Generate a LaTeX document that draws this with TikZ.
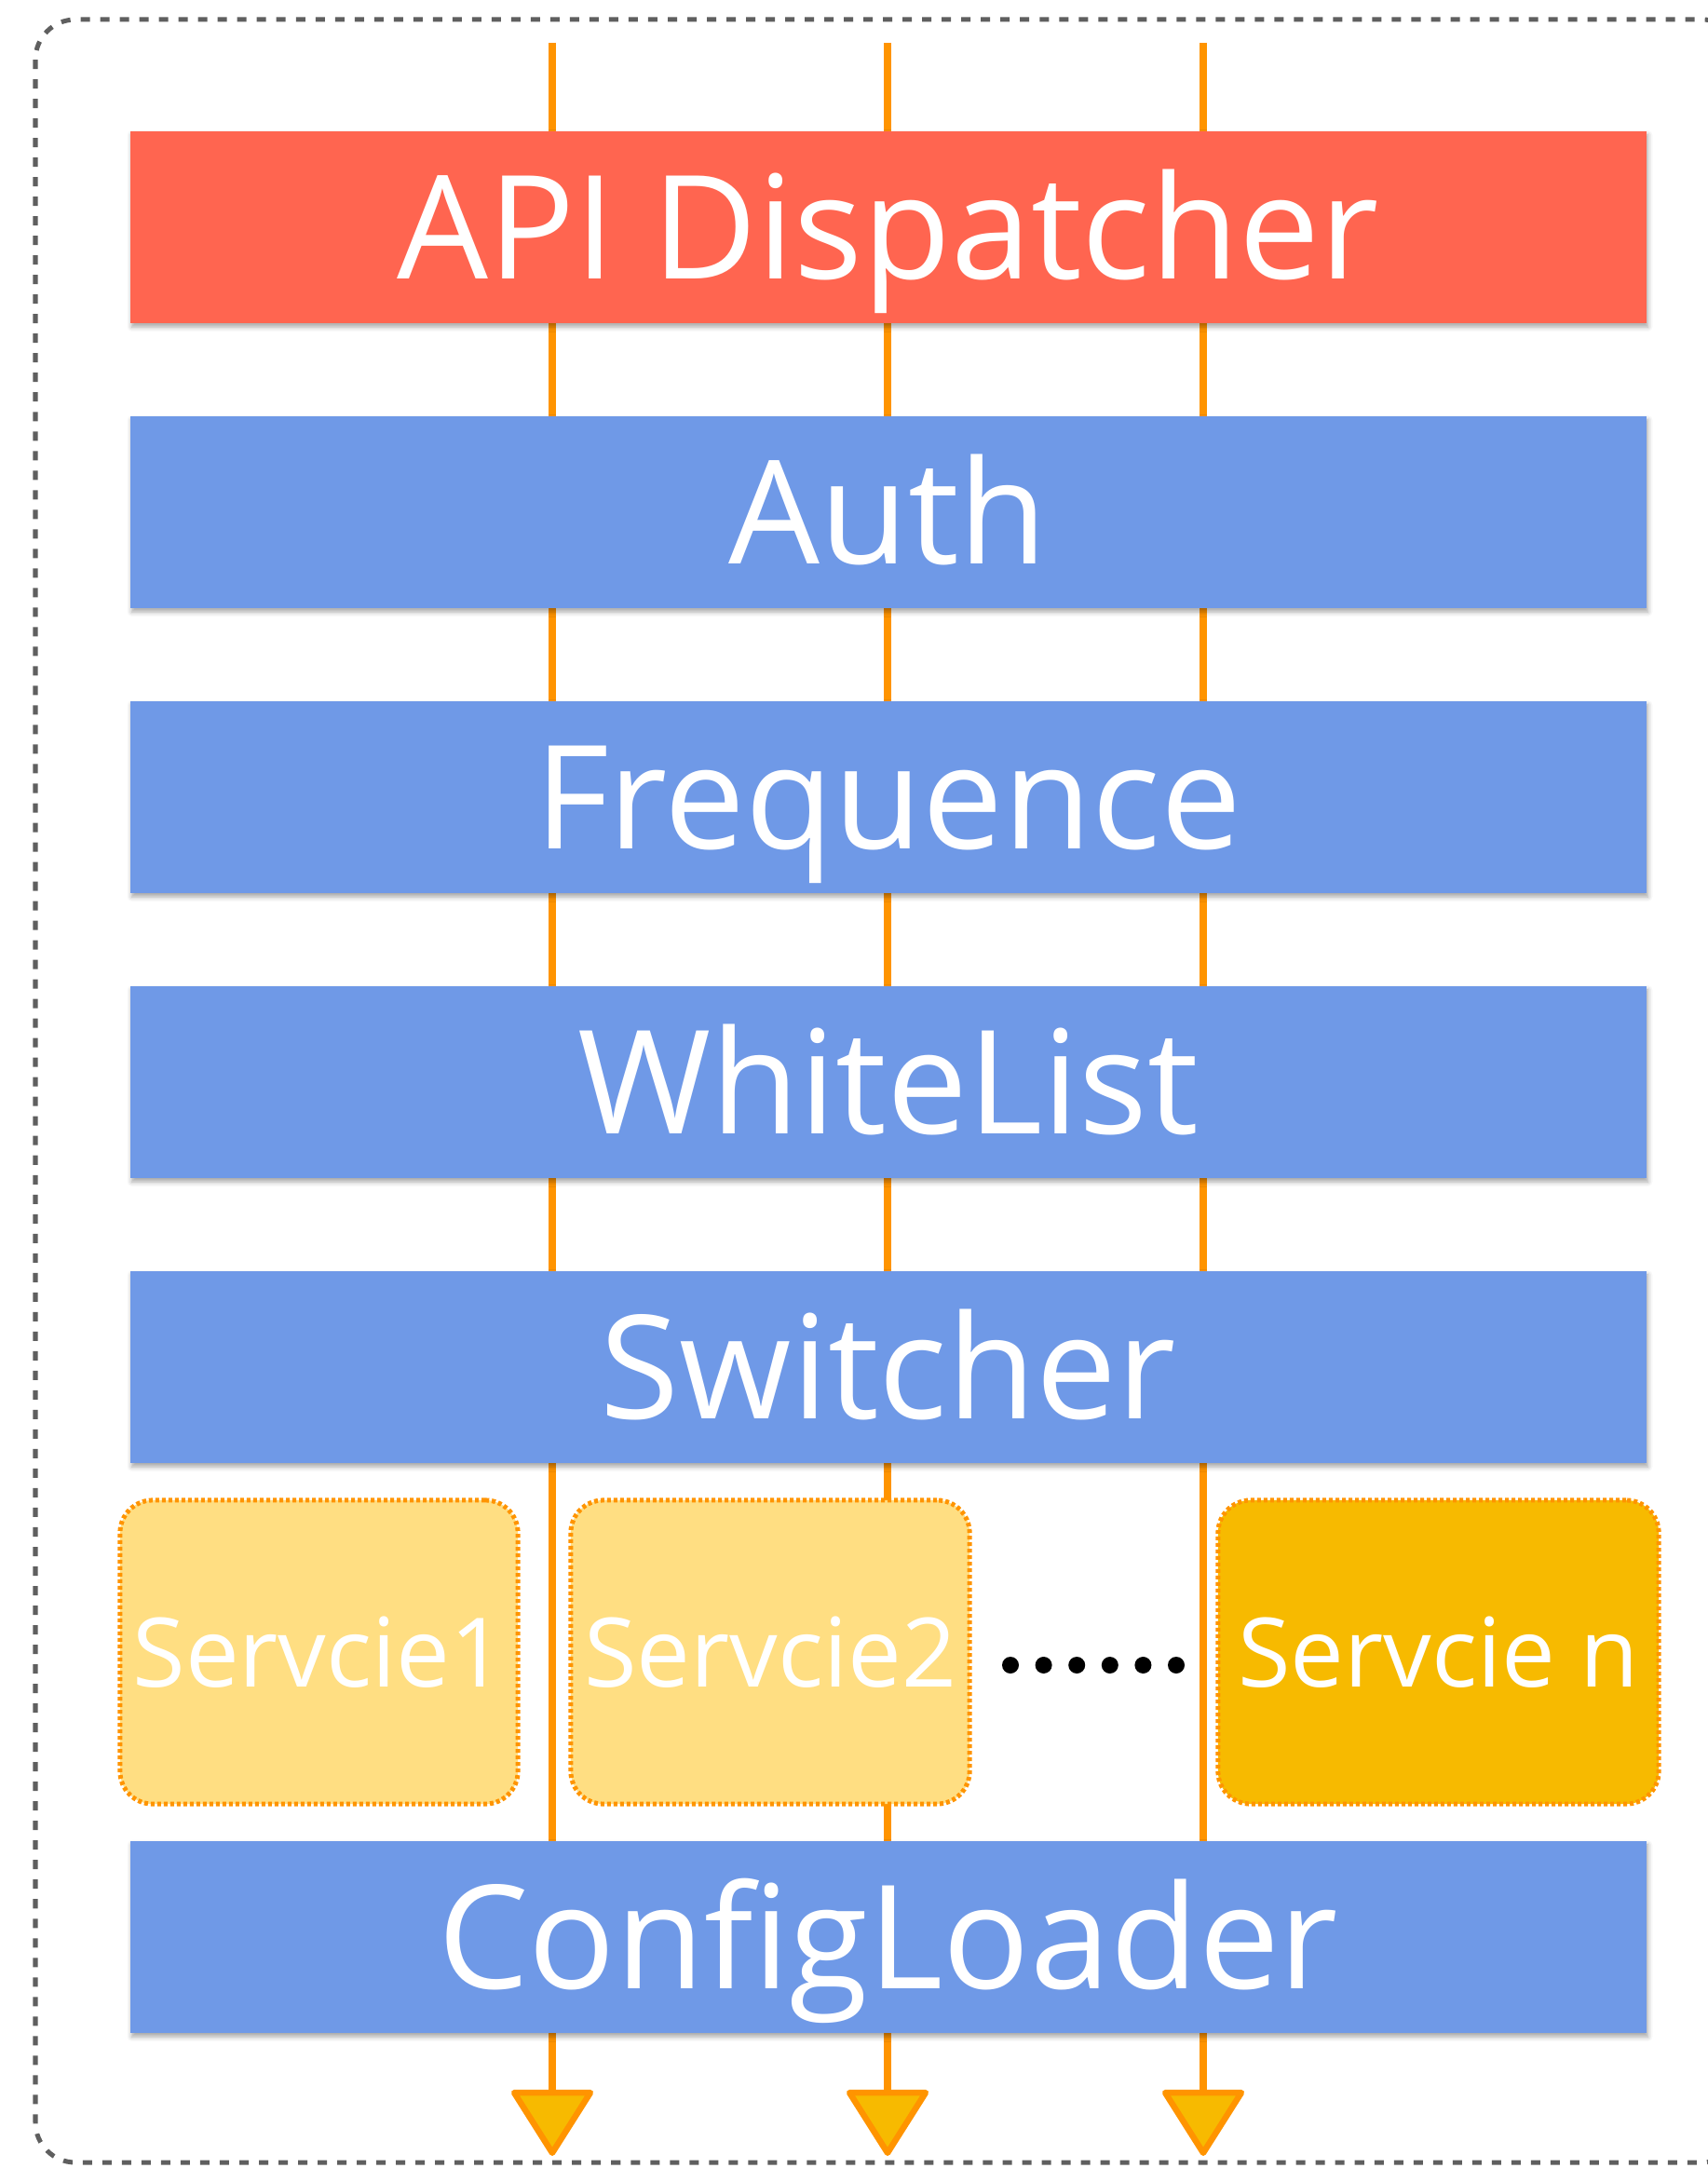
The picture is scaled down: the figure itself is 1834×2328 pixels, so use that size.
\documentclass[tikz,border=0pt]{standalone}
\usepackage{fontspec}
\setmainfont{Open Sans}
\usetikzlibrary{arrows.meta,shadows.blur}
\definecolor{apired}{HTML}{FF6550}
\definecolor{layblue}{HTML}{6F99E7}
\definecolor{floworange}{HTML}{FF9400}
\definecolor{tipfill}{HTML}{F7BA00}
\definecolor{svclight}{HTML}{FFDE82}
\definecolor{svcdark}{HTML}{F7BA00}
\definecolor{framegray}{HTML}{5F5F5F}
\tikzset{
  layerbox/.style={rectangle, fill=layblue, minimum width=16.27cm, minimum height=2.06cm,
    inner sep=0pt, text=white, font=\fontsize{44}{50}\selectfont,
    text height=1.11cm, text depth=0pt,
    blur shadow={shadow xshift=0.02cm, shadow yshift=-0.04cm, shadow blur radius=0.05cm, shadow opacity=35}},
  svcbox/.style={rectangle, rounded corners=0.35cm, draw=floworange, line width=0.05cm,
    dash pattern=on 0.04cm off 0.03cm, inner sep=0pt, text=white,
    font=\fontsize{29.3}{34}\selectfont, text height=0.74cm, text depth=0pt},
  flowline/.style={draw=floworange, line width=0.085cm,
    -{Triangle[width=0.92cm, length=0.74cm, fill=tipfill, line width=0.065cm, round]}},
  frameline/.style={draw=framegray, line width=0.05cm, dash pattern=on 0.1cm off 0.11cm, rounded corners=0.43cm},
  dotmark/.style={fill=black}
}
\begin{document}
\begin{tikzpicture}[x=0.01cm,y=-0.01cm]
\useasboundingbox (0,0) rectangle (1834,2328);
\begin{scope}
\clip (0,0) rectangle (1834,2328);
\draw[frameline] (38,21) rectangle (1871,2322);
\end{scope}
% flow endpoints
\coordinate (t1) at (593,46);
\coordinate (t2) at (953,46);
\coordinate (t3) at (1292,46);
\coordinate (e1) at (593,2315);
\coordinate (e2) at (953,2315);
\coordinate (e3) at (1292,2315);
\draw[flowline] (t1) -- (e1);
\draw[flowline] (t2) -- (e2);
\draw[flowline] (t3) -- (e3);
% layers
\node[layerbox, fill=apired] (api) at (953.5,244) {API Dispatcher};
\node[layerbox] (auth) at (953.5,550) {Auth};
\node[layerbox] (freq) at (953.5,856) {Frequence};
\node[layerbox] (white) at (953.5,1162) {WhiteList};
\node[layerbox] (switch) at (953.5,1468) {Switcher};
\node[layerbox] (config) at (953.5,2080) {ConfigLoader};
% services
\node[svcbox, fill=svclight, minimum width=4.27cm, minimum height=3.26cm] (s1) at (342.5,1774) {Servcie1};
\node[svcbox, fill=svclight, minimum width=4.28cm, minimum height=3.26cm] (s2) at (827,1774) {Servcie2};
\node[svcbox, fill=svcdark, minimum width=4.73cm, minimum height=3.26cm] (sn) at (1544.5,1774) {Servcie n};
\foreach \i in {0,...,5} {
  \fill[dotmark] (1085+35.6*\i,1788) circle (0.09cm);
}
\end{tikzpicture}
\end{document}
